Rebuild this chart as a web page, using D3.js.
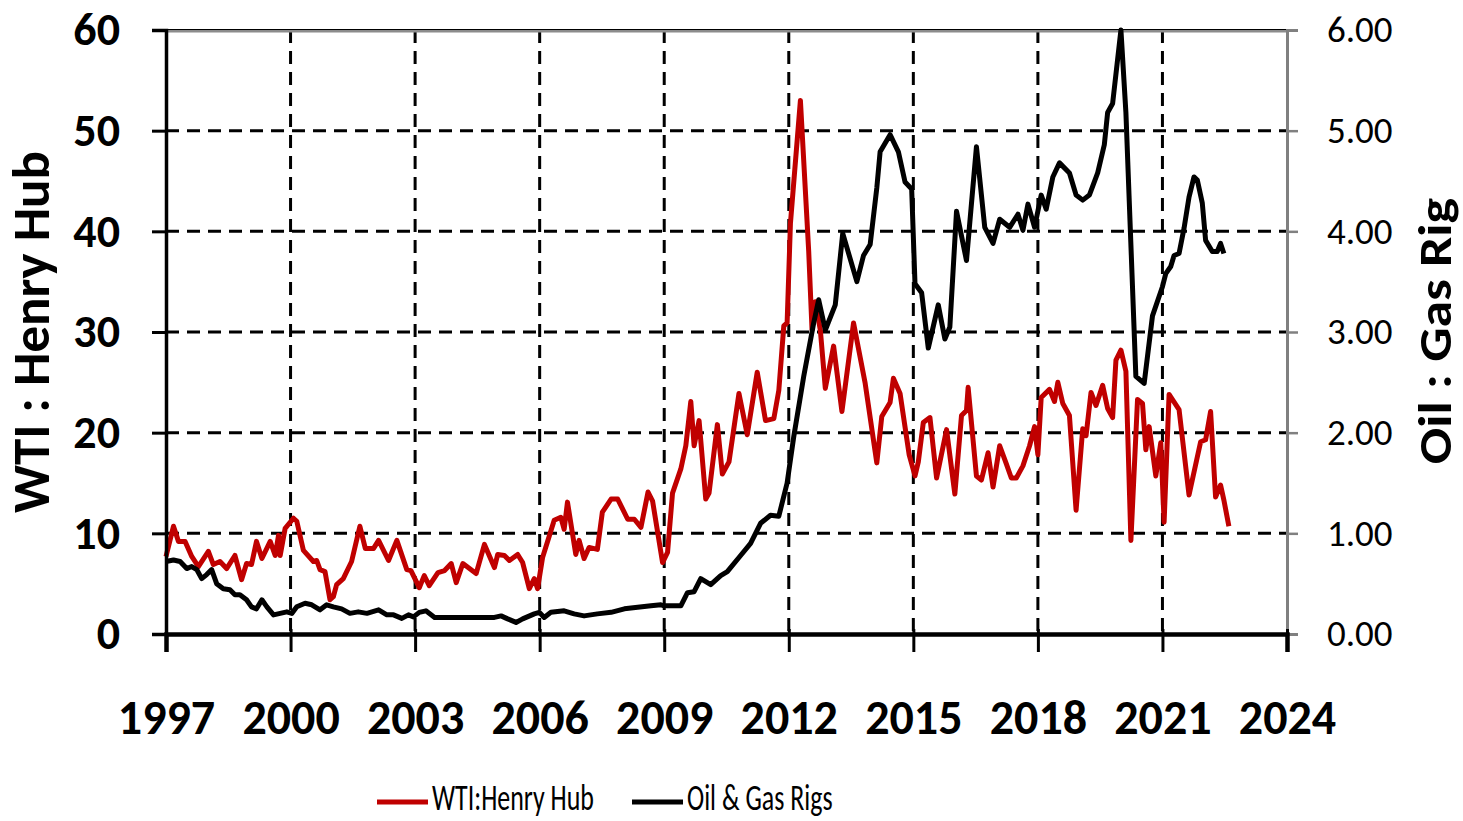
<!DOCTYPE html>
<html>
<head>
<meta charset="utf-8">
<script src="https://cdn.jsdelivr.net/npm/d3@7"></script>
<style>
  body { margin: 0; background: #fff; }
  svg { display: block; }
</style>
</head>
<body>
<div id="chart"></div>
<script>
// WTI : Henry Hub price ratio (left axis), [decimal year, ratio]
const wtiPoints = [
  [1997.00, 7.7], [1997.18, 10.7], [1997.30, 9.2], [1997.46, 9.2], [1997.62, 7.7], [1997.78, 6.7],
  [1998.02, 8.2], [1998.14, 6.9], [1998.30, 7.2], [1998.46, 6.5], [1998.66, 7.8], [1998.82, 5.4],
  [1998.94, 7.0], [1999.06, 6.9], [1999.18, 9.2], [1999.31, 7.5], [1999.51, 9.2], [1999.63, 7.8],
  [1999.71, 9.8], [1999.75, 7.8], [1999.87, 10.5], [2000.07, 11.5], [2000.15, 11.2], [2000.31, 8.3],
  [2000.55, 7.2], [2000.63, 7.3], [2000.71, 6.4], [2000.83, 6.2], [2000.95, 3.4], [2001.03, 3.7],
  [2001.11, 4.9], [2001.27, 5.5], [2001.47, 7.2], [2001.67, 10.7], [2001.80, 8.5], [2002.00, 8.5],
  [2002.12, 9.3], [2002.36, 7.3], [2002.56, 9.3], [2002.80, 6.4], [2002.90, 6.3], [2003.10, 4.6],
  [2003.22, 5.8], [2003.34, 4.8], [2003.55, 6.1], [2003.71, 6.3], [2003.87, 7.0], [2003.99, 5.1],
  [2004.15, 7.0], [2004.31, 6.5], [2004.47, 6.0], [2004.67, 8.9], [2004.91, 6.6], [2004.99, 7.9],
  [2005.15, 7.8], [2005.27, 7.3], [2005.47, 7.9], [2005.59, 7.1], [2005.75, 4.5], [2005.87, 5.5],
  [2005.95, 4.5], [2006.07, 7.6], [2006.35, 11.3], [2006.51, 11.6], [2006.59, 10.4], [2006.67, 13.1],
  [2006.87, 7.9], [2006.95, 9.3], [2007.07, 7.5], [2007.19, 8.6], [2007.39, 8.4], [2007.51, 12.1],
  [2007.72, 13.4], [2007.88, 13.4], [2008.12, 11.4], [2008.28, 11.4], [2008.44, 10.6], [2008.61, 14.1],
  [2008.72, 13.2], [2008.96, 7.1], [2009.08, 8.1], [2009.20, 14.0], [2009.40, 16.4], [2009.52, 18.7],
  [2009.64, 23.1], [2009.72, 18.7], [2009.84, 21.2], [2010.00, 13.4], [2010.08, 14.0], [2010.28, 20.8],
  [2010.40, 15.9], [2010.56, 17.1], [2010.80, 23.9], [2011.00, 19.8], [2011.24, 26.0], [2011.44, 21.2],
  [2011.64, 21.4], [2011.76, 24.2], [2011.88, 30.6], [2011.96, 30.9], [2012.04, 40.8], [2012.28, 53.0],
  [2012.48, 38.0], [2012.56, 30.2], [2012.64, 33.0], [2012.76, 30.2], [2012.88, 24.4], [2013.08, 28.6],
  [2013.28, 22.1], [2013.56, 30.9], [2013.84, 24.9], [2014.12, 17.0], [2014.24, 21.6], [2014.44, 23.0],
  [2014.52, 25.4], [2014.68, 23.9], [2014.90, 17.8], [2015.04, 15.7], [2015.12, 17.1], [2015.24, 21.0],
  [2015.40, 21.5], [2015.56, 15.5], [2015.80, 20.3], [2016.00, 13.9], [2016.16, 21.7], [2016.28, 22.2],
  [2016.32, 24.5], [2016.52, 15.7], [2016.64, 15.3], [2016.80, 18.0], [2016.92, 14.6], [2017.08, 18.7],
  [2017.24, 16.9], [2017.36, 15.5], [2017.48, 15.5], [2017.64, 16.7], [2017.80, 18.7], [2017.92, 20.6],
  [2018.00, 17.8], [2018.08, 23.5], [2018.28, 24.3], [2018.40, 23.1], [2018.48, 25.0], [2018.60, 22.9],
  [2018.76, 21.7], [2018.92, 12.3], [2019.08, 20.4], [2019.16, 19.7], [2019.28, 24.0], [2019.40, 22.7],
  [2019.56, 24.7], [2019.68, 22.4], [2019.80, 21.5], [2019.88, 27.2], [2020.00, 28.2], [2020.12, 26.1],
  [2020.24, 9.3], [2020.40, 23.3], [2020.52, 22.9], [2020.60, 18.3], [2020.68, 20.6], [2020.84, 15.7],
  [2020.96, 19.0], [2021.04, 11.1], [2021.16, 23.8], [2021.40, 22.3], [2021.64, 13.8], [2021.92, 19.1],
  [2022.04, 19.3], [2022.16, 22.1], [2022.28, 13.6], [2022.40, 14.8], [2022.48, 13.3], [2022.60, 10.7]
];

// Oil : Gas rig count ratio (right axis), [decimal year, ratio]
const rigPoints = [
  [1997.00, 0.72], [1997.18, 0.735], [1997.34, 0.72], [1997.50, 0.65], [1997.62, 0.67], [1997.74, 0.64],
  [1997.86, 0.55], [1997.98, 0.59], [1998.10, 0.64], [1998.22, 0.50], [1998.38, 0.45], [1998.54, 0.44],
  [1998.66, 0.39], [1998.78, 0.39], [1998.94, 0.34], [1999.06, 0.27], [1999.18, 0.25], [1999.31, 0.34],
  [1999.43, 0.27], [1999.59, 0.19], [1999.75, 0.205], [1999.91, 0.22], [2000.03, 0.205], [2000.15, 0.27],
  [2000.35, 0.305], [2000.51, 0.29], [2000.71, 0.24], [2000.87, 0.29], [2001.03, 0.27], [2001.23, 0.25],
  [2001.43, 0.205], [2001.63, 0.22], [2001.84, 0.205], [2002.12, 0.24], [2002.32, 0.19], [2002.48, 0.19],
  [2002.68, 0.155], [2002.84, 0.19], [2002.96, 0.17], [2003.10, 0.215], [2003.26, 0.23], [2003.47, 0.165],
  [2004.11, 0.165], [2004.51, 0.165], [2004.91, 0.165], [2005.07, 0.18], [2005.23, 0.15], [2005.43, 0.115],
  [2005.59, 0.15], [2005.87, 0.20], [2005.99, 0.215], [2006.11, 0.165], [2006.27, 0.215], [2006.59, 0.23],
  [2006.83, 0.20], [2007.07, 0.18], [2007.39, 0.20], [2007.72, 0.215], [2008.04, 0.25], [2008.36, 0.265],
  [2008.68, 0.28], [2008.92, 0.29], [2009.00, 0.28], [2009.40, 0.28], [2009.56, 0.41], [2009.72, 0.42],
  [2009.88, 0.55], [2010.12, 0.49], [2010.36, 0.58], [2010.52, 0.62], [2010.84, 0.78], [2011.08, 0.90],
  [2011.32, 1.10], [2011.56, 1.18], [2011.76, 1.17], [2011.96, 1.50], [2012.12, 1.96], [2012.36, 2.56],
  [2012.60, 3.09], [2012.72, 3.32], [2012.88, 3.02], [2013.12, 3.27], [2013.30, 3.98], [2013.64, 3.50],
  [2013.80, 3.76], [2013.96, 3.87], [2014.12, 4.43], [2014.20, 4.79], [2014.44, 4.96], [2014.64, 4.79],
  [2014.80, 4.49], [2014.96, 4.42], [2015.04, 3.48], [2015.20, 3.39], [2015.36, 2.84], [2015.60, 3.27],
  [2015.76, 2.93], [2015.88, 3.05], [2016.04, 4.20], [2016.28, 3.71], [2016.52, 4.84], [2016.72, 4.04],
  [2016.92, 3.88], [2017.08, 4.12], [2017.32, 4.04], [2017.52, 4.17], [2017.64, 4.01], [2017.76, 4.27],
  [2017.92, 4.04], [2018.08, 4.36], [2018.20, 4.22], [2018.36, 4.54], [2018.52, 4.68], [2018.76, 4.58],
  [2018.92, 4.36], [2019.08, 4.31], [2019.24, 4.36], [2019.44, 4.58], [2019.60, 4.86], [2019.68, 5.18],
  [2019.80, 5.27], [2020.00, 6.00], [2020.12, 5.18], [2020.36, 2.56], [2020.56, 2.49], [2020.76, 3.16],
  [2021.00, 3.45], [2021.08, 3.58], [2021.20, 3.65], [2021.28, 3.76], [2021.40, 3.78], [2021.52, 4.03],
  [2021.64, 4.34], [2021.76, 4.54], [2021.84, 4.51], [2021.96, 4.28], [2022.04, 3.91], [2022.20, 3.80],
  [2022.32, 3.80], [2022.40, 3.88], [2022.48, 3.78]
];

const yearTicks = [1997, 2000, 2003, 2006, 2009, 2012, 2015, 2018, 2021, 2024];
const leftTicks = [0, 10, 20, 30, 40, 50, 60];
const rightTicks = [0, 1, 2, 3, 4, 5, 6];
const legendLabels = ["WTI:Henry Hub", "Oil & Gas Rigs"];

const FONT = "Carlito, 'Liberation Sans Narrow', 'Arial Narrow', 'DejaVu Sans Condensed', sans-serif";
const RED = "#c00000";

const W = 1463, H = 821;
const margin = {top: 30, right: 176, bottom: 187, left: 166},
      width = W - margin.left - margin.right,
      height = H - margin.top - margin.bottom;

const svg = d3.select("#chart")
  .append("svg")
    .attr("width", W)
    .attr("height", H)
    .style("font-family", FONT);

const g = svg.append("g")
    .attr("transform", `translate(${margin.left},${margin.top})`);

// Scales
const x = d3.scaleLinear().domain([1997, 2024]).range([0, width]);
const yL = d3.scaleLinear().domain([0, 60]).range([height, 0]);
const yR = d3.scaleLinear().domain([0, 6]).range([height, 0]);

// Dashed grid
g.append("g")
  .selectAll("line")
  .data(leftTicks.filter(d => d > 0 && d < 60))
  .join("line")
    .attr("x1", 0).attr("x2", width)
    .attr("y1", d => yL(d)).attr("y2", d => yL(d))
    .attr("stroke", "#000").attr("stroke-width", 3)
    .attr("stroke-dasharray", "13,8");

g.append("g")
  .selectAll("line")
  .data(yearTicks.filter(d => d > 1997 && d < 2024))
  .join("line")
    .attr("x1", d => x(d)).attr("x2", d => x(d))
    .attr("y1", 0).attr("y2", height)
    .attr("stroke", "#000").attr("stroke-width", 3)
    .attr("stroke-dasharray", "13,8");

// Top border
g.append("line")
    .attr("x1", 0).attr("x2", width).attr("y1", 1).attr("y2", 1)
    .attr("stroke", "#8c8c8c").attr("stroke-width", 3);
g.append("line")
    .attr("x1", 0).attr("x2", width).attr("y1", -0.5).attr("y2", -0.5)
    .attr("stroke", "#000").attr("stroke-width", 1);

// Lines
const lineL = d3.line().x(d => x(d[0])).y(d => yL(d[1]));
const lineR = d3.line().x(d => x(d[0])).y(d => yR(Math.min(d[1], 6)));

g.append("path")
    .datum(wtiPoints)
    .attr("fill", "none")
    .attr("stroke", RED)
    .attr("stroke-width", 5)
    .attr("stroke-linejoin", "round")
    .attr("d", lineL);

g.append("path")
    .datum(rigPoints)
    .attr("fill", "none")
    .attr("stroke", "#000")
    .attr("stroke-width", 5)
    .attr("stroke-linejoin", "round")
    .attr("d", lineR);

// Right axis (grey)
const rAxis = g.append("g")
    .attr("transform", `translate(${width},0)`)
    .call(d3.axisRight(yR).tickValues(rightTicks).tickSize(11).tickPadding(29)
      .tickFormat(d3.format(".2f")));
rAxis.select(".domain").attr("stroke", "#808080").attr("stroke-width", 3);
rAxis.selectAll(".tick line").attr("stroke", "#808080").attr("stroke-width", 2.5);
rAxis.selectAll(".tick text")
    .attr("fill", "#000")
    .style("font-family", FONT)
    .style("font-size", "37px");

// Left axis
const lAxis = g.append("g")
    .call(d3.axisLeft(yL).tickValues(leftTicks).tickSize(14).tickPadding(32));
lAxis.select(".domain").attr("stroke", "#000").attr("stroke-width", 3.5);
lAxis.selectAll(".tick line").attr("stroke", "#000").attr("stroke-width", 3);
lAxis.selectAll(".tick text")
    .attr("fill", "#000")
    .style("font-family", FONT)
    .style("font-weight", "bold")
    .style("font-size", "46px");

// Bottom axis
const bAxis = g.append("g")
    .attr("transform", `translate(0,${height})`)
    .call(d3.axisBottom(x).tickValues(yearTicks).tickSize(18).tickPadding(48)
      .tickFormat(d3.format("d")));
bAxis.select(".domain").attr("stroke", "#000").attr("stroke-width", 4.5);
bAxis.selectAll(".tick line")
    .attr("y1", -5)
    .attr("stroke", "#000").attr("stroke-width", 3);
bAxis.selectAll(".tick text")
    .attr("fill", "#000")
    .style("font-family", FONT)
    .style("font-weight", "bold")
    .style("font-size", "48px");

// Axis titles
svg.append("text")
    .attr("transform", `translate(49,${margin.top + height / 2}) rotate(-90)`)
    .attr("text-anchor", "middle")
    .style("font-weight", "bold")
    .style("font-size", "53px")
    .text("WTI : Henry Hub");

svg.append("text")
    .attr("transform", `translate(1451,${margin.top + height / 2 - 1}) rotate(-90) scale(1,0.85)`)
    .attr("text-anchor", "middle")
    .style("font-weight", "bold")
    .style("font-size", "54px")
    .text("Oil : Gas Rig");

// Legend
const legend = svg.append("g").attr("transform", "translate(377,802)");
const items = [
  {label: legendLabels[0], color: RED, x: 0},
  {label: legendLabels[1], color: "#000", x: 255}
];
const li = legend.selectAll("g").data(items).join("g")
    .attr("transform", d => `translate(${d.x},0)`);
li.append("line")
    .attr("x1", 0).attr("x2", 51).attr("y1", 0).attr("y2", 0)
    .attr("stroke", d => d.color).attr("stroke-width", 5);
li.append("text")
    .attr("transform", "translate(55,8) scale(0.72,1)")
    .style("font-size", "36px")
    .text(d => d.label);
</script>
</body>
</html>
